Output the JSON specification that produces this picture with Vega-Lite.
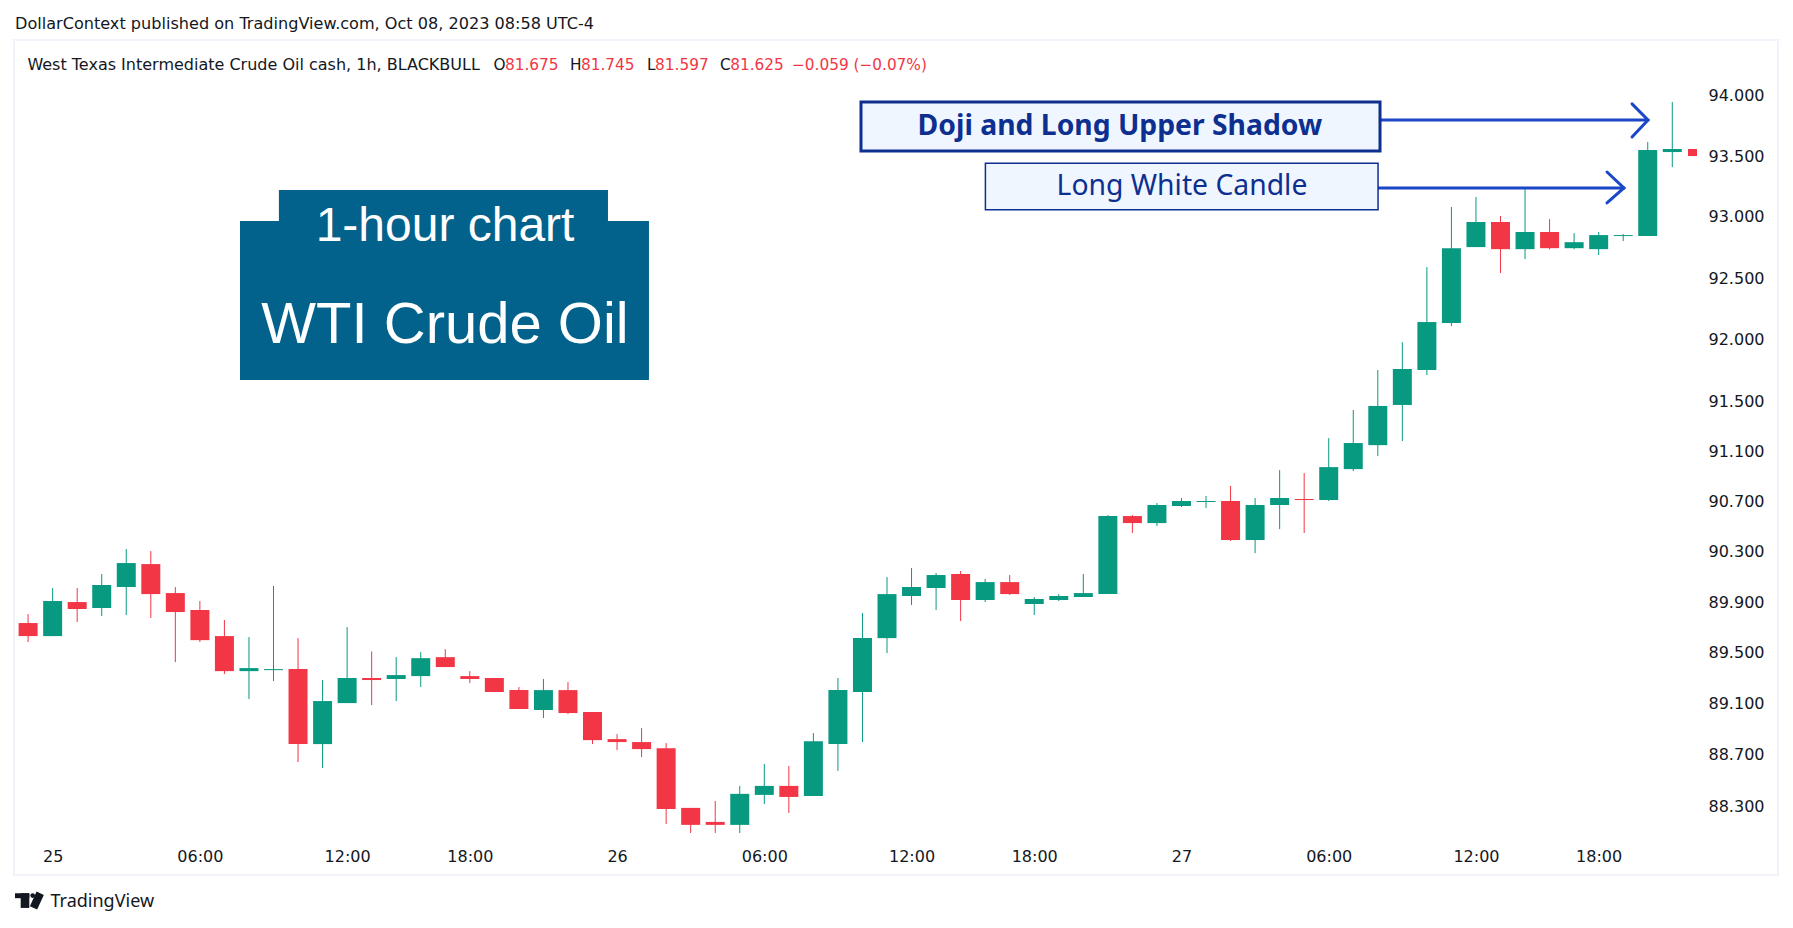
{
  "$schema": "https://vega.github.io/schema/vega-lite/v6.json",
  "description": "WTI Crude Oil 1-hour candlesticks, Sep 25-27 2023",
  "width": 1764,
  "height": 835,
  "padding": {"left": 14, "top": 40, "right": 15, "bottom": 53},
  "autosize": "none",
  "background": "white",
  "view": {"stroke": "#f0f3fa", "strokeWidth": 2},
  "title": {
    "text": "DollarContext published on TradingView.com, Oct 08, 2023 08:58 UTC-4",
    "anchor": "start",
    "frame": "group",
    "dx": 1,
    "offset": 8,
    "font": "DejaVu Sans",
    "fontSize": 16.1,
    "fontWeight": "normal",
    "color": "#131722"
  },
  "datasets": {
    "candles": [
      {"i":0,"open":89.731,"high":89.802,"low":89.581,"close":89.628},
      {"i":1,"open":89.628,"high":90.008,"low":89.628,"close":89.905},
      {"i":2,"open":89.897,"high":90.008,"low":89.739,"close":89.842},
      {"i":3,"open":89.850,"high":90.119,"low":89.786,"close":90.032},
      {"i":4,"open":90.016,"high":90.317,"low":89.794,"close":90.206},
      {"i":5,"open":90.198,"high":90.301,"low":89.771,"close":89.960},
      {"i":6,"open":89.968,"high":90.016,"low":89.423,"close":89.818},
      {"i":7,"open":89.834,"high":89.905,"low":89.581,"close":89.596},
      {"i":8,"open":89.628,"high":89.755,"low":89.329,"close":89.352},
      {"i":9,"open":89.352,"high":89.620,"low":89.133,"close":89.376},
      {"i":10,"open":89.360,"high":90.024,"low":89.274,"close":89.368},
      {"i":11,"open":89.368,"high":89.612,"low":88.640,"close":88.780},
      {"i":12,"open":88.780,"high":89.282,"low":88.594,"close":89.117},
      {"i":13,"open":89.101,"high":89.699,"low":89.101,"close":89.298},
      {"i":14,"open":89.298,"high":89.507,"low":89.086,"close":89.282},
      {"i":15,"open":89.290,"high":89.462,"low":89.117,"close":89.321},
      {"i":16,"open":89.313,"high":89.502,"low":89.227,"close":89.454},
      {"i":17,"open":89.462,"high":89.525,"low":89.384,"close":89.384},
      {"i":18,"open":89.313,"high":89.352,"low":89.258,"close":89.290},
      {"i":19,"open":89.298,"high":89.298,"low":89.188,"close":89.188},
      {"i":20,"open":89.203,"high":89.227,"low":89.054,"close":89.054},
      {"i":21,"open":89.047,"high":89.290,"low":88.984,"close":89.203},
      {"i":22,"open":89.203,"high":89.266,"low":89.015,"close":89.023},
      {"i":23,"open":89.031,"high":89.031,"low":88.780,"close":88.811},
      {"i":24,"open":88.819,"high":88.858,"low":88.733,"close":88.796},
      {"i":25,"open":88.796,"high":88.905,"low":88.679,"close":88.741},
      {"i":26,"open":88.748,"high":88.788,"low":88.158,"close":88.275},
      {"i":27,"open":88.283,"high":88.283,"low":88.088,"close":88.151},
      {"i":28,"open":88.174,"high":88.337,"low":88.088,"close":88.151},
      {"i":29,"open":88.151,"high":88.454,"low":88.088,"close":88.392},
      {"i":30,"open":88.384,"high":88.625,"low":88.314,"close":88.454},
      {"i":31,"open":88.454,"high":88.609,"low":88.244,"close":88.368},
      {"i":32,"open":88.376,"high":88.866,"low":88.376,"close":88.803},
      {"i":33,"open":88.780,"high":89.298,"low":88.571,"close":89.203},
      {"i":34,"open":89.188,"high":89.810,"low":88.796,"close":89.612},
      {"i":35,"open":89.612,"high":90.095,"low":89.494,"close":89.960},
      {"i":36,"open":89.945,"high":90.166,"low":89.873,"close":90.016},
      {"i":37,"open":90.008,"high":90.127,"low":89.834,"close":90.111},
      {"i":38,"open":90.119,"high":90.143,"low":89.747,"close":89.913},
      {"i":39,"open":89.913,"high":90.079,"low":89.897,"close":90.055},
      {"i":40,"open":90.055,"high":90.111,"low":89.953,"close":89.960},
      {"i":41,"open":89.881,"high":89.937,"low":89.794,"close":89.921},
      {"i":42,"open":89.913,"high":89.960,"low":89.905,"close":89.945},
      {"i":43,"open":89.937,"high":90.119,"low":89.937,"close":89.968},
      {"i":44,"open":89.960,"high":90.588,"low":89.960,"close":90.580},
      {"i":45,"open":90.580,"high":90.588,"low":90.445,"close":90.524},
      {"i":46,"open":90.524,"high":90.684,"low":90.500,"close":90.668},
      {"i":47,"open":90.660,"high":90.724,"low":90.652,"close":90.700},
      {"i":48,"open":90.692,"high":90.740,"low":90.644,"close":90.700},
      {"i":49,"open":90.700,"high":90.820,"low":90.381,"close":90.389},
      {"i":50,"open":90.389,"high":90.724,"low":90.285,"close":90.668},
      {"i":51,"open":90.668,"high":90.947,"low":90.476,"close":90.724},
      {"i":52,"open":90.716,"high":90.923,"low":90.445,"close":90.708},
      {"i":53,"open":90.708,"high":91.203,"low":90.700,"close":90.971},
      {"i":54,"open":90.955,"high":91.429,"low":90.939,"close":91.164},
      {"i":55,"open":91.147,"high":91.752,"low":91.059,"close":91.462},
      {"i":56,"open":91.470,"high":91.977,"low":91.180,"close":91.760},
      {"i":57,"open":91.752,"high":92.587,"low":91.711,"close":92.140},
      {"i":58,"open":92.132,"high":93.078,"low":92.108,"close":92.741},
      {"i":59,"open":92.750,"high":93.160,"low":92.750,"close":92.955},
      {"i":60,"open":92.955,"high":93.004,"low":92.538,"close":92.733},
      {"i":61,"open":92.733,"high":93.233,"low":92.652,"close":92.873},
      {"i":62,"open":92.873,"high":92.979,"low":92.731,"close":92.741},
      {"i":63,"open":92.741,"high":92.864,"low":92.733,"close":92.790},
      {"i":64,"open":92.733,"high":92.873,"low":92.684,"close":92.848},
      {"i":65,"open":92.840,"high":92.856,"low":92.799,"close":92.848},
      {"i":66,"open":92.840,"high":93.612,"low":92.840,"close":93.546},
      {"i":67,"open":93.529,"high":93.942,"low":93.405,"close":93.554},
      {"i":68,"open":93.554,"high":93.554,"low":93.496,"close":93.496}
    ],
    "header": [
      {"label":"West Texas Intermediate Crude Oil cash, 1h, BLACKBULL","i":-0.029,"kind":"long"},
      {"label":"O","i":18.97,"kind":"name"},
      {"label":"81.675","i":19.43,"kind":"value"},
      {"label":"H","i":22.08,"kind":"name"},
      {"label":"81.745","i":22.53,"kind":"value"},
      {"label":"L","i":25.22,"kind":"name"},
      {"label":"81.597","i":25.55,"kind":"value"},
      {"label":"C","i":28.19,"kind":"name"},
      {"label":"81.625","i":28.61,"kind":"value"},
      {"label":"−0.059 (−0.07%)","i":31.13,"kind":"value"}
    ],
    "arrows": [
      {"part":"doji shaft","n":0,"i":55.09,"price":93.793},
      {"part":"doji shaft","n":1,"i":66.01,"price":93.793},
      {"part":"doji head","n":0,"i":65.36,"price":93.926},
      {"part":"doji head","n":1,"i":66.01,"price":93.793},
      {"part":"doji head","n":2,"i":65.36,"price":93.653},
      {"part":"long shaft","n":0,"i":55.01,"price":93.234},
      {"part":"long shaft","n":1,"i":65.03,"price":93.234},
      {"part":"long head","n":0,"i":64.34,"price":93.365},
      {"part":"long head","n":1,"i":65.03,"price":93.234},
      {"part":"long head","n":2,"i":64.34,"price":93.111}
    ],
    "logoBlocks": [
      {"i0":-0.534,"i1":0.049,"p0":87.584,"p1":87.622},
      {"i0":-0.302,"i1":0.049,"p0":87.509,"p1":87.622}
    ],
    "logoSlant": [
      {"n":0,"i":0.493,"price":87.622},
      {"n":1,"i":0.22,"price":87.509}
    ]
  },
  "data": {"name": "candles"},
  "encoding": {
    "x": {
      "field": "i",
      "type": "quantitative",
      "scale": {"domain": [-0.5746, 71.308], "nice": false, "zero": false, "padding": 0},
      "axis": {
        "title": null,
        "orient": "bottom",
        "offset": -27,
        "values": [1, 7, 13, 18, 24, 30, 36, 41, 47, 53, 59, 64],
        "labelExpr": "{1:'25',7:'06:00',13:'12:00',18:'18:00',24:'26',30:'06:00',36:'12:00',41:'18:00',47:'27',53:'06:00',59:'12:00',64:'18:00'}[datum.value]",
        "grid": false,
        "ticks": false,
        "domain": false,
        "labelPadding": 0,
        "labelBaseline": "top",
        "labelFont": "DejaVu Sans",
        "labelFontSize": 16,
        "labelColor": "#131722",
        "labelOverlap": false
      }
    },
    "y": {
      "field": "low",
      "type": "quantitative",
      "scale": {"type": "log", "domain": [87.763, 94.456], "nice": false, "zero": false, "padding": 0},
      "axis": {
        "title": null,
        "orient": "right",
        "offset": -70,
        "values": [88.3, 88.7, 89.1, 89.5, 89.9, 90.3, 90.7, 91.1, 91.5, 92, 92.5, 93, 93.5, 94],
        "format": ".3f",
        "grid": false,
        "ticks": false,
        "domain": false,
        "labelPadding": 0,
        "labelOffset": 0.5,
        "labelAlign": "left",
        "labelFont": "DejaVu Sans",
        "labelFontSize": 16,
        "labelColor": "#131722"
      }
    }
  },
  "layer": [
    {
      "data": {"values": [{"i0": 8.635, "i1": 25.3, "p0": 91.671, "p1": 92.963}, {"i0": 10.22, "i1": 23.63, "p0": 92.9, "p1": 93.217}]},
      "mark": {"type": "rect", "color": "#03628c"},
      "encoding": {
        "x": {"field": "i0", "type": "quantitative"},
        "x2": {"field": "i1"},
        "y": {"field": "p0", "type": "quantitative"},
        "y2": {"field": "p1"}
      }
    },
    {
      "data": {"values": [{"label": "1-hour chart", "i": 16.99, "price": 92.8}]},
      "mark": {"type": "text", "font": "Liberation Sans", "fontSize": 48, "color": "white", "align": "center", "baseline": "alphabetic"},
      "encoding": {
        "x": {"field": "i", "type": "quantitative"},
        "y": {"field": "price", "type": "quantitative"},
        "text": {"field": "label"}
      }
    },
    {
      "data": {"values": [{"label": "WTI Crude Oil", "i": 16.99, "price": 91.97}]},
      "mark": {"type": "text", "font": "Liberation Sans", "fontSize": 58, "color": "white", "align": "center", "baseline": "alphabetic"},
      "encoding": {
        "x": {"field": "i", "type": "quantitative"},
        "y": {"field": "price", "type": "quantitative"},
        "text": {"field": "label"}
      }
    },
    {
      "transform": [{"filter": "datum.i < 68"}],
      "mark": {"type": "rule", "strokeWidth": 1},
      "encoding": {
        "y": {"field": "low", "type": "quantitative"},
        "y2": {"field": "high"},
        "color": {"condition": {"test": "datum.close >= datum.open", "value": "#089981"}, "value": "#f23645"}
      }
    },
    {
      "transform": [{"filter": "datum.i < 68"}],
      "mark": {"type": "bar", "orient": "vertical", "size": 19},
      "encoding": {
        "y": {"field": "open", "type": "quantitative"},
        "y2": {"field": "close"},
        "color": {"condition": {"test": "datum.close >= datum.open", "value": "#089981"}, "value": "#f23645"}
      }
    },
    {
      "transform": [{"filter": "datum.i == 68"}],
      "mark": {"type": "bar", "orient": "vertical", "size": 9, "xOffset": -4.3, "color": "#f23645"},
      "encoding": {
        "y": {"field": "open", "type": "quantitative"},
        "y2": {"field": "close"}
      }
    },
    {
      "data": {"name": "arrows"},
      "mark": {"type": "line", "color": "#1a47c8", "strokeWidth": 3, "strokeCap": "round", "strokeJoin": "miter"},
      "encoding": {
        "x": {"field": "i", "type": "quantitative"},
        "y": {"field": "price", "type": "quantitative"},
        "detail": {"field": "part"},
        "order": {"field": "n"}
      }
    },
    {
      "data": {"values": [{"i0": 33.94, "i1": 55.09, "p0": 93.538, "p1": 93.942}]},
      "mark": {"type": "rect", "fill": "#f0f6ff", "stroke": "#0d2f8f", "strokeWidth": 3},
      "encoding": {
        "x": {"field": "i0", "type": "quantitative"},
        "x2": {"field": "i1"},
        "y": {"field": "p0", "type": "quantitative"},
        "y2": {"field": "p1"}
      }
    },
    {
      "data": {"values": [{"i0": 39.01, "i1": 55.01, "p0": 93.056, "p1": 93.437}]},
      "mark": {"type": "rect", "fill": "#f0f6ff", "stroke": "#0d2f8f", "strokeWidth": 1.5},
      "encoding": {
        "x": {"field": "i0", "type": "quantitative"},
        "x2": {"field": "i1"},
        "y": {"field": "p0", "type": "quantitative"},
        "y2": {"field": "p1"}
      }
    },
    {
      "data": {"values": [{"label": "Doji and Long Upper Shadow", "i": 44.49, "price": 93.735}]},
      "mark": {"type": "text", "font": "Noto Sans", "fontSize": 28.3, "fontWeight": "bold", "color": "#0d2f8f", "align": "center", "baseline": "middle"},
      "encoding": {
        "x": {"field": "i", "type": "quantitative"},
        "y": {"field": "price", "type": "quantitative"},
        "text": {"field": "label"}
      }
    },
    {
      "data": {"values": [{"label": "Long White Candle", "i": 47.02, "price": 93.24}]},
      "mark": {"type": "text", "font": "Noto Sans", "fontSize": 28.3, "color": "#0d2f8f", "align": "center", "baseline": "middle"},
      "encoding": {
        "x": {"field": "i", "type": "quantitative"},
        "y": {"field": "price", "type": "quantitative"},
        "text": {"field": "label"}
      }
    },
    {
      "data": {"name": "header"},
      "transform": [{"filter": "datum.kind == 'long'"}, {"calculate": "94.25", "as": "price"}],
      "mark": {"type": "text", "font": "DejaVu Sans", "fontSize": 16, "align": "left", "baseline": "middle", "color": "#131722"},
      "encoding": {
        "x": {"field": "i", "type": "quantitative"},
        "y": {"field": "price", "type": "quantitative"},
        "text": {"field": "label"}
      }
    },
    {
      "data": {"name": "header"},
      "transform": [{"filter": "datum.kind != 'long'"}, {"calculate": "94.25", "as": "price"}],
      "mark": {"type": "text", "font": "DejaVu Sans", "fontSize": 15.3, "align": "left", "baseline": "middle"},
      "encoding": {
        "x": {"field": "i", "type": "quantitative"},
        "y": {"field": "price", "type": "quantitative"},
        "text": {"field": "label"},
        "color": {"field": "kind", "type": "nominal", "legend": null, "scale": {"domain": ["name", "value"], "range": ["#131722", "#f23645"]}}
      }
    },
    {
      "data": {"name": "logoBlocks"},
      "mark": {"type": "rect", "color": "#131722"},
      "encoding": {
        "x": {"field": "i0", "type": "quantitative"},
        "x2": {"field": "i1"},
        "y": {"field": "p0", "type": "quantitative"},
        "y2": {"field": "p1"}
      }
    },
    {
      "data": {"name": "logoSlant"},
      "mark": {"type": "line", "color": "#131722", "strokeWidth": 8, "strokeCap": "butt"},
      "encoding": {
        "x": {"field": "i", "type": "quantitative"},
        "y": {"field": "price", "type": "quantitative"},
        "order": {"field": "n"}
      }
    },
    {
      "data": {"values": [{"i": 0.187, "price": 87.604}]},
      "mark": {"type": "point", "filled": true, "opacity": 1, "size": 22, "color": "#131722"},
      "encoding": {
        "x": {"field": "i", "type": "quantitative"},
        "y": {"field": "price", "type": "quantitative"}
      }
    },
    {
      "data": {"values": [{"label": "TradingView", "i": 0.913, "price": 87.555}]},
      "mark": {"type": "text", "font": "Noto Sans", "fontSize": 18, "color": "#131722", "align": "left", "baseline": "middle"},
      "encoding": {
        "x": {"field": "i", "type": "quantitative"},
        "y": {"field": "price", "type": "quantitative"},
        "text": {"field": "label"}
      }
    }
  ]
}
